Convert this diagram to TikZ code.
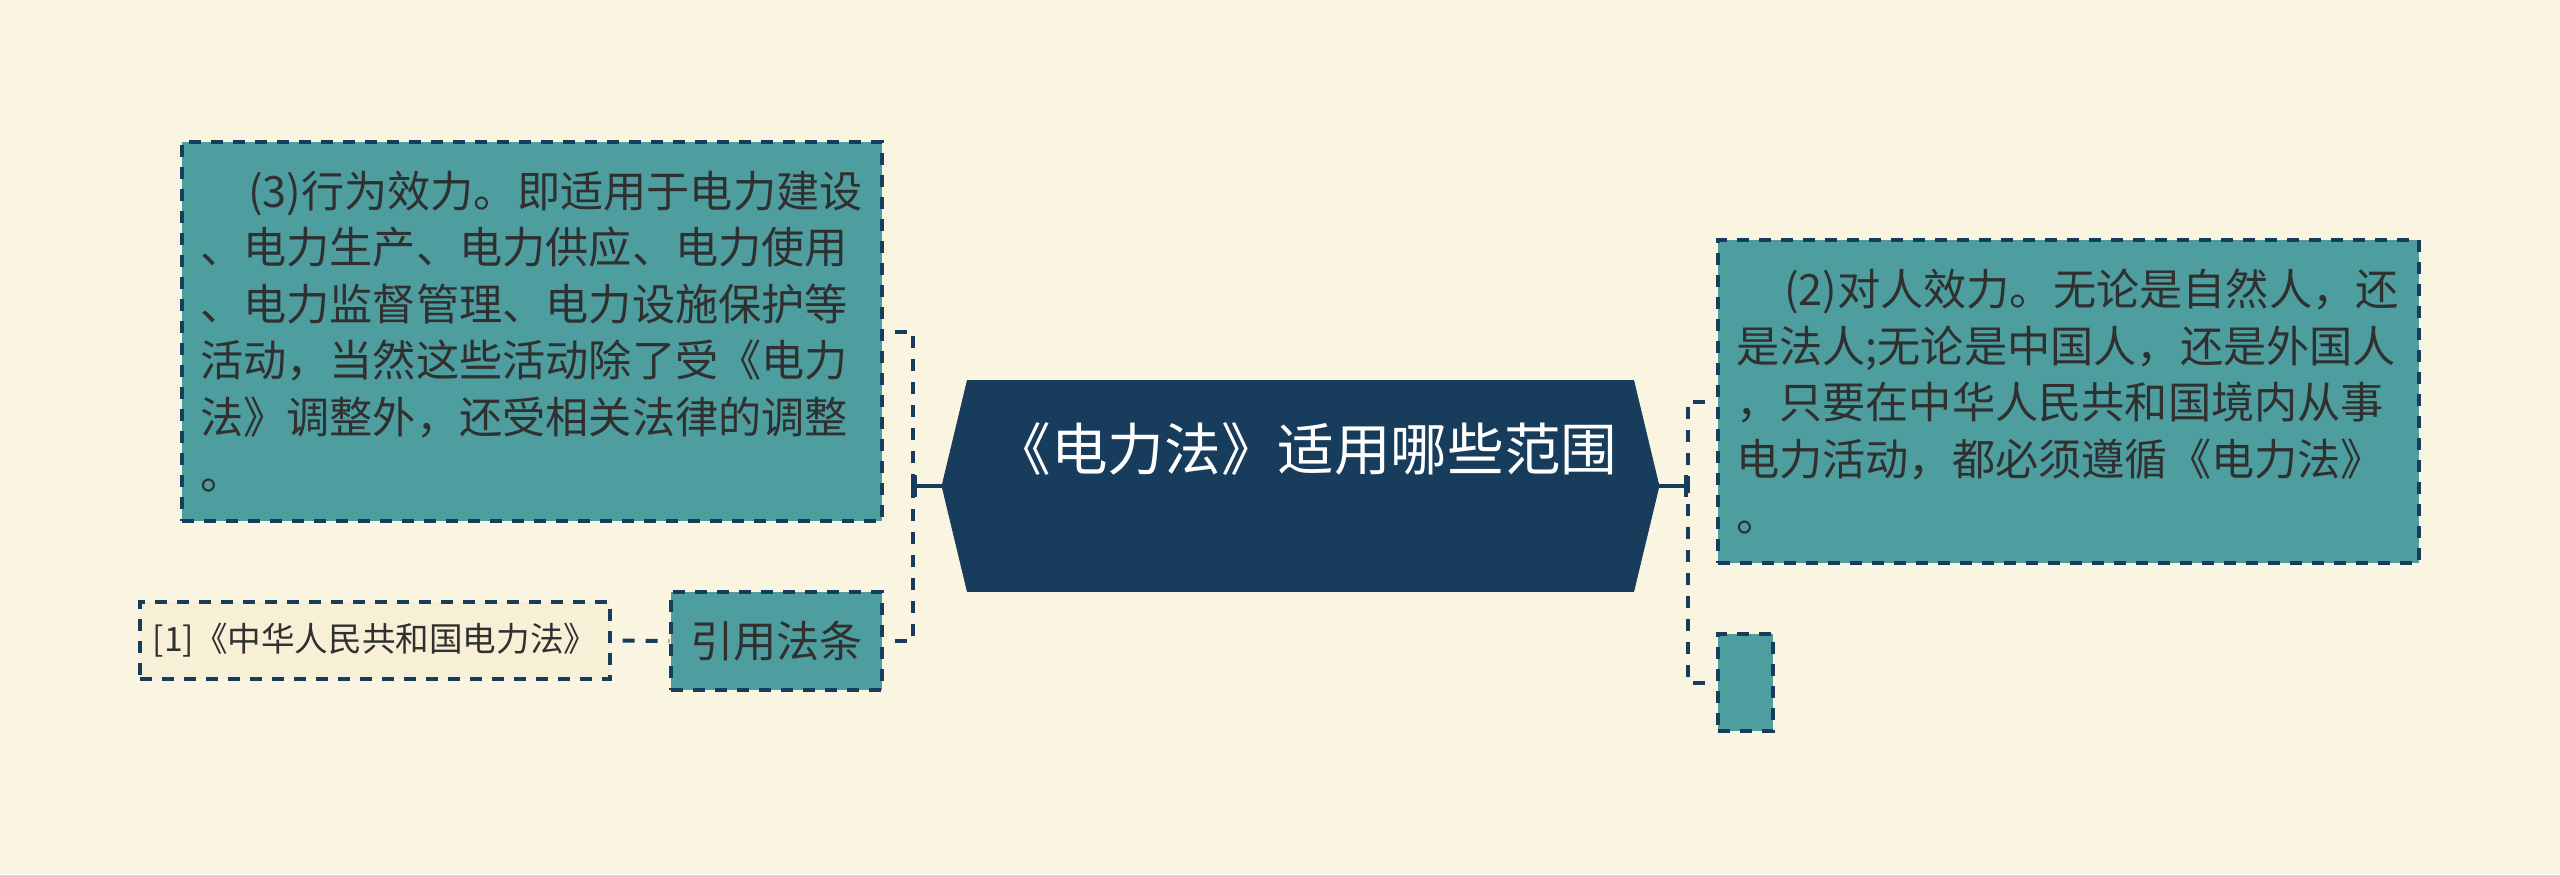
\documentclass[tikz,border=0pt]{standalone}
\usepackage{fontspec}
\setmainfont{Noto Sans CJK SC}
\usetikzlibrary{shapes.symbols, arrows.meta, positioning, calc}
\definecolor{paper}{RGB}{250,245,225}
\definecolor{navy}{RGB}{23,60,92}
\definecolor{tealbox}{RGB}{78,157,159}
\definecolor{inkgray}{RGB}{48,48,48}
\definecolor{refpaper}{RGB}{247,240,214}

\begin{document}
\begin{tikzpicture}[
  x=0.5pt, y=-0.5pt,
  topic/.style={
    shape=signal, signal to=east and west, signal pointer angle=153,
    draw=navy, fill=navy, inner sep=0pt,
    minimum width=358.5pt, minimum height=105.5pt
  },
  topictext/.style={text=white, inner sep=0pt, font=\fontsize{28.3pt}{33pt}\selectfont},
  leaf/.style={
    rectangle, draw=navy, fill=tealbox, line width=1.6pt,
    dash pattern=on 6pt off 5pt,
    text=inkgray, align=left, inner xsep=9pt, inner ysep=0pt,
    font=\fontsize{21.6pt}{28.25pt}\selectfont
  },
  refbox/.style={
    rectangle, draw=navy, fill=refpaper, line width=1.6pt,
    dash pattern=on 6pt off 5pt, text=inkgray, inner sep=0pt,
    minimum width=235pt, minimum height=38.5pt,
    font=\fontsize{16.8pt}{19pt}\selectfont
  },
  link/.style={draw=navy, line width=2pt, dash pattern=on 6pt off 5.5pt, dash phase=6pt},
  trunk/.style={draw=navy, line width=2pt, -{Bar[width=11pt]}}
]
\useasboundingbox[fill=paper] (0,0) rectangle (2560,874);

% ---- Central topic ----
\node[topic] (topic) at (1300.5,486) {};
\node[topictext] (topictext) at (1306,449) {《电力法》适用哪些范围};

% ---- Left branch ----
\node[leaf, text width=332pt, minimum height=189.5pt] (act) at (532,331.5)
  {\hspace*{24pt}(3)行为效力。即适用于电力建设\\
   、电力生产、电力供应、电力使用\\
   、电力监督管理、电力设施保护等\\
   活动，当然这些活动除了受《电力\\
   法》调整外，还受相关法律的调整\\
   。};
\node[leaf, align=center, inner xsep=0pt, minimum width=105.5pt, minimum height=49pt] (cite) at (776.5,641) {引用法条};
\node[refbox] (ref) at (375,640.5) {[1]《中华人民共和国电力法》};

% ---- Right branch ----
\node[leaf, text width=332.5pt, minimum height=161.5pt] (person) at (2068.5,401.5)
  {\hspace*{24pt}(2)对人效力。无论是自然人，还\\
   是法人;无论是中国人，还是外国人\\
   ，只要在中华人民共和国境内从事\\
   电力活动，都必须遵循《电力法》\\
   。};
\node[leaf, inner sep=0pt, minimum width=27.5pt, minimum height=48.5pt] (blank) at (1745.5,682.5) {};

% ---- Connectors ----
\coordinate (lbus) at (913,486);
\coordinate (rbus) at (1688,486);
\draw[trunk] (topic.west) -- (lbus);
\draw[trunk] (topic.east) -- (rbus);
\foreach \leafnode in {act,cite} {
  \draw[link] (\leafnode.east) -| (lbus);
}
\foreach \leafnode in {person,blank} {
  \draw[link] (\leafnode.west) -| (rbus);
}
\draw[link] (ref.east) -- (cite.west);

\end{tikzpicture}
\end{document}
